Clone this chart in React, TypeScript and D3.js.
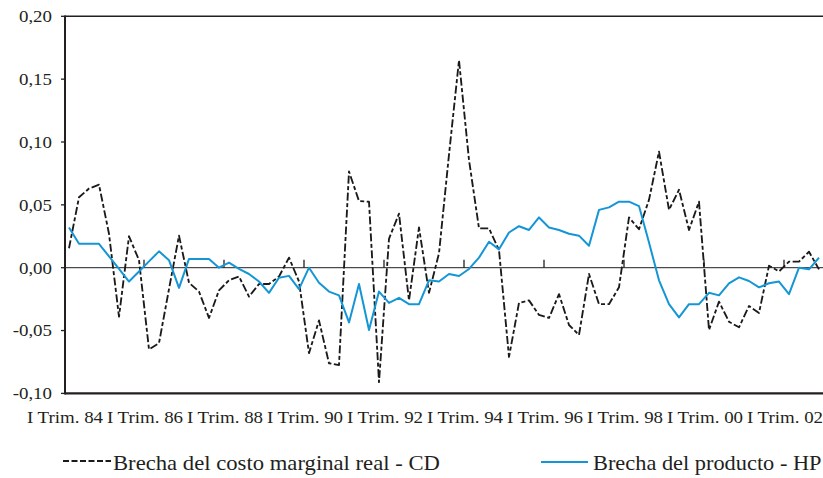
import React from 'react';
import * as d3 from 'd3';

// Category axis: quarterly, I Trim. 1984 .. IV Trim. 2002
const yearLabels = ['84','85','86','87','88','89','90','91','92','93','94','95','96','97','98','99','00','01','02'];
const quarterNames = ['I', 'II', 'III', 'IV'];
const categories: string[] = [];
yearLabels.forEach((yy) => quarterNames.forEach((q) => categories.push(`${q} Trim. ${yy}`)));

const tickLabels = ['I Trim. 84','I Trim. 86','I Trim. 88','I Trim. 90','I Trim. 92','I Trim. 94','I Trim. 96','I Trim. 98','I Trim. 00','I Trim. 02'];

const yTicks = [-0.10, -0.05, 0.0, 0.05, 0.10, 0.15, 0.20];

// Brecha del costo marginal real - CD
const cdGap = [
  0.0155, 0.056, 0.063, 0.066, 0.027, -0.039, 0.025, 0.006, -0.065, -0.060,
  -0.017, 0.0255, -0.012, -0.019, -0.040, -0.018, -0.010, -0.007, -0.023, -0.013,
  -0.013, -0.007, 0.008, -0.011, -0.068, -0.042, -0.076, -0.0775, 0.0765, 0.053,
  0.0525, -0.091, 0.023, 0.043, -0.026, 0.032, -0.020, 0.0115, 0.090, 0.165,
  0.0857, 0.0313, 0.0313, 0.014, -0.071, -0.028, -0.026, -0.0376, -0.040, -0.021,
  -0.0456, -0.0535, -0.005, -0.029, -0.029, -0.0156, 0.040, 0.0306, 0.054, 0.0923,
  0.046, 0.062, 0.030, 0.0525, -0.0495, -0.027, -0.043, -0.0474, -0.0305, -0.036,
  0.0016, -0.003, 0.0048, 0.0048, 0.0127, -0.0013,
];

// Brecha del producto - HP
const hpGap = [
  0.032, 0.019, 0.019, 0.019, 0.009, -0.001, -0.011, -0.003, 0.005, 0.013,
  0.006, -0.016, 0.007, 0.007, 0.007, 0.000, 0.004, -0.001, -0.005, -0.011,
  -0.020, -0.008, -0.0065, -0.017, 0.000, -0.012, -0.019, -0.022, -0.0435, -0.013,
  -0.0496, -0.019, -0.028, -0.024, -0.029, -0.029, -0.010, -0.011, -0.005, -0.0066,
  -0.001, 0.008, 0.0207, 0.0146, 0.028, 0.033, 0.030, 0.040, 0.032, 0.030,
  0.027, 0.0255, 0.0175, 0.046, 0.048, 0.0525, 0.0525, 0.049, 0.020, -0.010,
  -0.029, -0.0395, -0.029, -0.029, -0.020, -0.022, -0.0124, -0.0077, -0.0106, -0.0156,
  -0.0124, -0.011, -0.021, 0.000, -0.0013, 0.008,
];

const seriesNames = ['Brecha del costo marginal real - CD', 'Brecha del producto - HP'];

const W = 823;
const H = 478;
const INK = '#231f20';
const BLUE = '#1496d6';
const FONT = '"Liberation Serif", "Times New Roman", serif';
const SX = 1.08;

export default function App() {
  const left = 65;
  const right = 825;
  const top = 16.3;
  const bottom = 393.4;

  const x = d3.scalePoint<string>().domain(categories).range([69, 819]);
  const step = x.step();
  const y = d3.scaleLinear().domain([-0.1, 0.2]).range([bottom, top]);

  const line = d3
    .line<number>()
    .x((_, i) => x(categories[i]) as number)
    .y((d) => y(d));

  const fmt = (v: number) => v.toFixed(2).replace('.', ',');
  const y0 = y(0);

  const labelCats = tickLabels.map((_, k) => categories[k * 8]);

  return (
    <svg
      width={W}
      height={H}
      style={{ position: 'absolute', left: 0, top: 0, background: '#fff' }}
      fontFamily={FONT}
    >
      <rect x={0} y={0} width={W} height={H} fill="#fff" />
      {/* zero line */}
      <line x1={left} x2={right} y1={y0} y2={y0} stroke={INK} strokeWidth={1} />
      {/* category ticks on zero line */}
      {labelCats.slice(1).map((c) => {
        const tx = (x(c) as number) - step / 2;
        return <line key={c} x1={tx} x2={tx} y1={y0 - 8} y2={y0} stroke={INK} strokeWidth={1.3} />;
      })}
      {/* frame */}
      <line x1={left} x2={right} y1={top} y2={top} stroke={INK} strokeWidth={1.4} />
      <line x1={left} x2={right} y1={bottom} y2={bottom} stroke={INK} strokeWidth={2.4} />
      <line x1={left} x2={left} y1={top - 0.7} y2={bottom + 1.2} stroke={INK} strokeWidth={2} />
      {/* y ticks and labels */}
      {yTicks.map((t) => (
        <g key={t}>
          <line x1={left - 4} x2={left} y1={y(t)} y2={y(t)} stroke={INK} strokeWidth={1.3} />
          <text
            transform={`translate(52, ${y(t) + 5.8}) scale(${SX},1)`}
            textAnchor="end"
            fontSize={17.5}
            fill={INK}
          >
            {fmt(t)}
          </text>
        </g>
      ))}
      {/* x labels */}
      {tickLabels.map((lab, k) => (
        <text
          key={lab}
          transform={`translate(${(x(labelCats[k]) as number) - 4}, 423) scale(${SX},1)`}
          textAnchor="middle"
          fontSize={17.5}
          fill={INK}
        >
          {lab}
        </text>
      ))}
      {/* series */}
      <path
        d={line(cdGap) || ''}
        fill="none"
        stroke="#1a1a1a"
        strokeWidth={1.85}
        strokeDasharray="8,2.5,4,2.5"
        strokeLinejoin="round"
      />
      <path d={line(hpGap) || ''} fill="none" stroke={BLUE} strokeWidth={2} strokeLinejoin="round" />
      {/* legend */}
      <line x1={63} x2={111} y1={461} y2={461} stroke="#1a1a1a" strokeWidth={1.8} strokeDasharray="6,2.5" />
      <text transform={`translate(113, 470) scale(${SX},1)`} fontSize={21} fill={INK}>
        {seriesNames[0]}
      </text>
      <line x1={541} x2={588} y1={462} y2={462} stroke={BLUE} strokeWidth={2} />
      <text transform={`translate(593, 470) scale(1.065,1)`} fontSize={21} fill={INK}>
        {seriesNames[1]}
      </text>
    </svg>
  );
}
